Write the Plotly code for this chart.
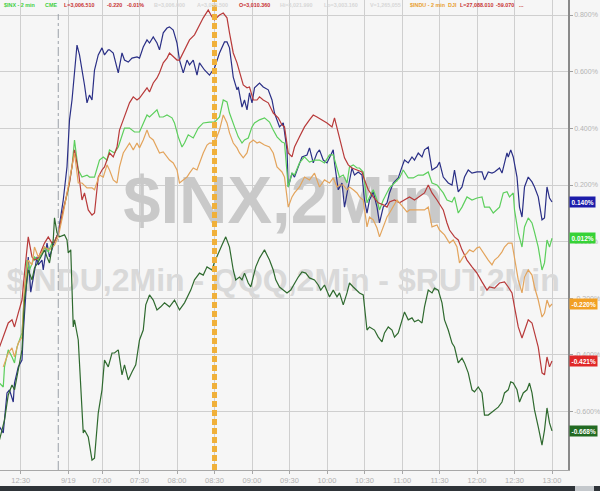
import plotly.graph_objects as go

# ---- data (time in minutes of the compressed session axis, value in %) ----
INX = [(338,-0.654),(341,-0.675),(344,-0.534),(346,-0.523),(349,-0.566),(350,-0.499),(353,-0.442),(356,-0.418),(357,-0.322),(360,-0.089),(361,-0.054),(363,-0.178),(365,-0.125),(368,-0.054),(369,-0.082),(372,-0.065),(373,-0.100),(376,-0.005),(378,-0.054),(382,0.000),(385,0.031),(389,0.147),(392,0.264),(394,0.430),(396,0.500),(398,0.606),(400,0.694),(402,0.659),(405,0.588),(406,0.553),(408,0.490),(410,0.518),(412,0.500),(414,0.606),(417,0.659),(420,0.684),(422,0.659),(425,0.677),(426,0.677),(429,0.666),(433,0.596),(436,0.666),(438,0.641),(441,0.634),(444,0.648),(448,0.652),(450,0.648),(453,0.687),(456,0.712),(458,0.701),(461,0.723),(464,0.701),(466,0.677),(469,0.737),(472,0.754),(474,0.758),(477,0.747),(480,0.701),(482,0.641),(485,0.596),(488,0.641),(490,0.624),(493,0.641),(496,0.588),(498,0.631),(502,0.606),(506,0.588),(510,0.613),(514,0.666),(518,0.705),(520,0.705),(522,0.684),(525,0.581),(528,0.536),(529,0.546),(532,0.475),(534,0.500),(536,0.465),(538,0.525),(540,0.490),(542,0.543),(546,0.560),(549,0.546),(553,0.536),(556,0.500),(558,0.454),(562,0.405),(565,0.419),(568,0.324),(569,0.193),(572,0.242),(574,0.228),(577,0.264),(580,0.299),(584,0.306),(586,0.331),(589,0.278),(592,0.313),(594,0.324),(597,0.288),(600,0.278),(602,0.299),(605,0.324),(606,0.278),(609,0.183),(612,0.207),(614,0.122),(617,0.193),(620,0.260),(622,0.235),(625,0.246),(628,0.235),(630,0.147),(632,0.101),(634,0.147),(637,0.176),(640,0.122),(642,0.066),(645,0.122),(648,0.137),(650,0.172),(653,0.207),(657,0.225),(660,0.264),(662,0.288),(665,0.278),(668,0.299),(670,0.288),(673,0.313),(676,0.299),(678,0.324),(681,0.334),(684,0.253),(688,0.264),(690,0.281),(693,0.228),(697,0.207),(700,0.200),(702,0.253),(705,0.176),(708,0.193),(710,0.228),(713,0.253),(716,0.242),(720,0.246),(724,0.246),(726,0.218),(729,0.246),(732,0.242),(734,0.246),(738,0.260),(740,0.242),(742,0.281),(744,0.313),(745,0.299),(747,0.324),(749,0.299),(752,0.228),(754,0.122),(756,0.087),(758,0.193),(761,0.228),(764,0.211),(766,0.193),(769,0.158),(772,0.077),(774,0.084),(776,0.193),(778,0.154),(780,0.140)]

QQQ = [(338,-0.499),(341,-0.513),(342,-0.442),(345,-0.382),(348,-0.407),(350,-0.428),(352,-0.372),(354,-0.347),(356,-0.322),(358,-0.181),(360,-0.065),(362,-0.100),(364,-0.075),(366,-0.054),(369,-0.065),(372,-0.036),(374,-0.019),(377,-0.036),(380,-0.005),(382,0.000),(385,0.031),(389,0.112),(393,0.183),(396,0.264),(398,0.359),(401,0.253),(404,0.228),(408,0.235),(410,0.228),(414,0.228),(418,0.288),(421,0.299),(424,0.288),(426,0.324),(430,0.313),(433,0.334),(436,0.370),(438,0.401),(442,0.401),(446,0.387),(450,0.387),(453,0.419),(456,0.447),(458,0.440),(461,0.454),(464,0.465),(466,0.440),(469,0.440),(472,0.447),(476,0.437),(478,0.419),(481,0.370),(484,0.334),(486,0.348),(489,0.377),(493,0.366),(497,0.401),(501,0.419),(506,0.422),(510,0.422),(514,0.440),(517,0.500),(520,0.493),(522,0.454),(526,0.405),(529,0.370),(532,0.348),(534,0.359),(537,0.366),(540,0.405),(542,0.419),(546,0.430),(550,0.437),(554,0.422),(557,0.394),(560,0.370),(564,0.352),(566,0.348),(569,0.193),(572,0.242),(574,0.235),(578,0.278),(582,0.299),(586,0.281),(590,0.288),(594,0.288),(598,0.278),(602,0.306),(605,0.306),(608,0.264),(610,0.228),(613,0.235),(616,0.207),(618,0.264),(621,0.271),(624,0.260),(626,0.260),(629,0.246),(632,0.137),(634,0.158),(637,0.183),(640,0.147),(642,0.112),(645,0.147),(648,0.172),(650,0.190),(654,0.207),(658,0.225),(661,0.253),(665,0.225),(669,0.225),(673,0.235),(677,0.235),(681,0.246),(684,0.207),(688,0.200),(693,0.172),(696,0.147),(700,0.140),(702,0.158),(705,0.101),(708,0.122),(712,0.158),(716,0.147),(720,0.154),(724,0.158),(726,0.122),(730,0.122),(733,0.101),(736,0.112),(738,0.122),(741,0.172),(744,0.176),(746,0.158),(749,0.172),(750,0.112),(753,0.031),(756,-0.019),(758,0.052),(761,0.084),(764,0.066),(766,0.034),(769,-0.019),(772,-0.100),(774,-0.075),(776,0.006),(778,-0.019),(780,0.012)]

NDX_RED = [(338,-0.372),(342,-0.322),(345,-0.287),(348,-0.276),(350,-0.301),(353,-0.252),(356,-0.206),(358,-0.111),(361,0.017),(364,-0.054),(366,-0.065),(369,-0.058),(372,-0.022),(374,-0.005),(377,0.017),(380,-0.005),(382,0.000),(385,0.031),(389,0.112),(394,0.207),(398,0.324),(401,0.253),(404,0.147),(406,0.172),(409,0.112),(412,0.094),(414,0.101),(417,0.228),(420,0.253),(422,0.264),(426,0.313),(429,0.299),(432,0.334),(434,0.394),(437,0.430),(440,0.465),(442,0.490),(445,0.511),(448,0.500),(450,0.507),(453,0.525),(456,0.543),(458,0.528),(461,0.560),(464,0.578),(466,0.596),(469,0.631),(472,0.648),(474,0.666),(477,0.652),(480,0.641),(482,0.641),(486,0.677),(490,0.712),(494,0.730),(497,0.758),(501,0.790),(505,0.818),(508,0.793),(510,0.783),(514,0.800),(517,0.807),(520,0.790),(522,0.737),(525,0.666),(528,0.631),(530,0.596),(533,0.553),(536,0.543),(538,0.546),(541,0.500),(544,0.500),(546,0.511),(549,0.500),(553,0.490),(557,0.454),(561,0.437),(564,0.412),(566,0.405),(569,0.313),(572,0.299),(574,0.334),(578,0.370),(582,0.405),(586,0.430),(589,0.447),(592,0.440),(596,0.430),(600,0.419),(604,0.405),(606,0.437),(609,0.384),(612,0.324),(614,0.296),(617,0.271),(620,0.260),(624,0.253),(628,0.246),(630,0.218),(633,0.183),(637,0.158),(641,0.137),(645,0.130),(648,0.122),(650,0.140),(654,0.147),(658,0.137),(662,0.147),(666,0.158),(670,0.147),(674,0.158),(678,0.172),(681,0.200),(684,0.172),(688,0.147),(693,0.112),(696,0.066),(698,0.041),(702,0.017),(705,0.006),(708,-0.029),(712,-0.065),(716,-0.089),(720,-0.111),(724,-0.142),(728,-0.171),(730,-0.160),(734,-0.164),(738,-0.146),(742,-0.142),(745,-0.160),(748,-0.181),(750,-0.230),(753,-0.301),(756,-0.340),(758,-0.312),(761,-0.276),(764,-0.287),(766,-0.322),(769,-0.372),(772,-0.463),(774,-0.470),(776,-0.407),(778,-0.442),(780,-0.421)]

INDU = [(341,-0.442),(345,-0.393),(348,-0.375),(350,-0.407),(353,-0.358),(356,-0.337),(358,-0.160),(361,-0.065),(364,-0.082),(366,-0.019),(369,-0.054),(372,-0.036),(374,-0.019),(378,-0.029),(382,-0.012),(385,0.017),(389,0.101),(393,0.193),(396,0.264),(398,0.313),(401,0.207),(404,0.207),(408,0.190),(412,0.190),(414,0.183),(418,0.235),(421,0.228),(424,0.271),(426,0.253),(429,0.218),(432,0.207),(434,0.264),(437,0.313),(440,0.334),(442,0.348),(445,0.324),(448,0.348),(450,0.331),(453,0.359),(456,0.394),(458,0.370),(461,0.359),(464,0.334),(466,0.313),(469,0.317),(472,0.299),(474,0.288),(477,0.278),(480,0.253),(482,0.207),(485,0.218),(488,0.228),(490,0.242),(493,0.260),(496,0.253),(498,0.278),(501,0.313),(504,0.341),(506,0.348),(510,0.348),(514,0.394),(517,0.447),(520,0.419),(522,0.384),(525,0.348),(528,0.331),(530,0.313),(533,0.296),(536,0.313),(538,0.348),(541,0.359),(544,0.348),(546,0.352),(550,0.341),(554,0.334),(557,0.313),(560,0.264),(564,0.246),(566,0.228),(569,0.122),(572,0.158),(574,0.172),(578,0.193),(582,0.228),(586,0.218),(590,0.242),(594,0.193),(598,0.218),(602,0.207),(605,0.225),(608,0.193),(610,0.200),(613,0.200),(616,0.183),(618,0.193),(621,0.183),(624,0.172),(626,0.158),(629,0.147),(632,0.052),(634,0.087),(637,0.077),(640,0.048),(642,0.017),(645,0.052),(648,0.087),(650,0.101),(653,0.122),(656,0.147),(658,0.137),(661,0.122),(664,0.105),(666,0.112),(670,0.112),(674,0.112),(678,0.112),(681,0.122),(684,0.052),(688,0.059),(690,0.041),(694,0.024),(698,-0.005),(701,0.006),(704,-0.019),(706,-0.075),(709,-0.054),(712,-0.040),(714,-0.029),(717,-0.036),(720,-0.022),(722,-0.019),(725,-0.040),(729,-0.065),(732,-0.082),(734,-0.065),(737,-0.054),(740,-0.036),(742,-0.019),(745,-0.005),(748,-0.005),(750,-0.054),(753,-0.135),(756,-0.181),(758,-0.125),(761,-0.100),(764,-0.118),(766,-0.160),(769,-0.206),(772,-0.266),(774,-0.252),(776,-0.206),(778,-0.230),(780,-0.220)]

RUT = [(338,-0.700),(342,-0.630),(345,-0.541),(348,-0.506),(350,-0.523),(353,-0.453),(356,-0.382),(358,-0.206),(361,-0.100),(364,-0.135),(366,-0.093),(369,-0.072),(372,-0.047),(374,-0.029),(376,-0.054),(378,-0.075),(381,0.006),(382,0.084),(384,0.031),(386,0.017),(390,0.024),(392,0.006),(393,-0.040),(395,-0.029),(397,-0.301),(398,-0.276),(401,-0.347),(402,-0.442),(405,-0.675),(406,-0.665),(409,-0.689),(412,-0.771),(414,-0.764),(417,-0.605),(420,-0.523),(422,-0.418),(425,-0.442),(428,-0.393),(430,-0.393),(433,-0.382),(436,-0.470),(438,-0.435),(441,-0.488),(444,-0.460),(447,-0.435),(450,-0.347),(453,-0.312),(455,-0.223),(458,-0.188),(461,-0.206),(464,-0.241),(467,-0.230),(470,-0.216),(474,-0.230),(478,-0.206),(482,-0.241),(486,-0.216),(491,-0.171),(494,-0.135),(498,-0.111),(501,-0.118),(504,-0.089),(508,-0.100),(510,-0.072),(513,-0.040),(516,-0.012),(519,0.017),(522,-0.019),(525,-0.100),(527,-0.135),(530,-0.125),(532,-0.135),(534,-0.111),(537,-0.146),(539,-0.160),(543,-0.089),(546,-0.058),(550,-0.029),(552,-0.047),(554,-0.065),(557,-0.100),(559,-0.135),(562,-0.160),(565,-0.171),(568,-0.181),(571,-0.171),(574,-0.146),(577,-0.125),(580,-0.107),(583,-0.111),(586,-0.128),(590,-0.135),(593,-0.153),(595,-0.171),(598,-0.153),(602,-0.195),(605,-0.171),(608,-0.195),(610,-0.181),(613,-0.223),(616,-0.181),(618,-0.146),(621,-0.160),(624,-0.171),(626,-0.181),(629,-0.188),(632,-0.312),(634,-0.301),(638,-0.312),(641,-0.337),(644,-0.354),(646,-0.322),(649,-0.301),(652,-0.312),(654,-0.337),(657,-0.322),(660,-0.276),(662,-0.248),(665,-0.276),(668,-0.269),(670,-0.283),(673,-0.276),(676,-0.287),(678,-0.230),(681,-0.171),(684,-0.181),(686,-0.164),(689,-0.171),(692,-0.216),(694,-0.276),(697,-0.312),(700,-0.358),(702,-0.372),(705,-0.428),(708,-0.411),(710,-0.428),(713,-0.463),(716,-0.523),(718,-0.530),(721,-0.513),(724,-0.534),(726,-0.612),(729,-0.612),(732,-0.601),(734,-0.594),(737,-0.584),(740,-0.566),(742,-0.534),(745,-0.523),(747,-0.495),(749,-0.499),(752,-0.523),(754,-0.566),(757,-0.534),(760,-0.523),(762,-0.499),(764,-0.534),(766,-0.594),(769,-0.654),(772,-0.718),(774,-0.665),(776,-0.587),(778,-0.640),(780,-0.668)]

SERIES_NAMES = ["$INX", "QQQ", "$NDX", "$INDU", "$RUT"]
LINE_COLORS = ["#2a2f86", "#5ccf5c", "#b83a3a", "#e3a45c", "#2f6a2f"]
# end labels, ordered top to bottom
END_LABELS = ["0.140%", "0.012%", "-0.220%", "-0.421%", "-0.668%"]
END_VALUES = [0.140, 0.012, -0.220, -0.421, -0.668]
LABEL_COLORS = ["#1c1caa", "#36d236", "#f2a024", "#e02828", "#226a22"]

X_TICK_VALS = [355, 393, 420, 450, 480, 510, 540, 570, 600, 630, 660, 690, 720, 750, 780]
X_TICK_TEXT = ["12:30", "9/19", "07:00", "07:30", "08:00", "08:30", "09:00", "09:30",
               "10:00", "10:30", "11:00", "11:30", "12:00", "12:30", "13:00"]
Y_TICK_VALS = [-0.6, -0.4, -0.2, 0.0, 0.2, 0.4, 0.6, 0.8]
Y_TICK_TEXT = ["-0.600%", "-0.400%", "-0.200%", "0.000%", "0.200%", "0.400%", "0.600%", "0.800%"]

SESSION_START = 385   # dashed session boundary
EVENT_TIME = 510      # 08:30 marker

HEADER = [(2, "$INX - 2 min", "#3ecf3e"), (43, "CME", "#3ecf3e"), (62, "L=3,006.510", "#c83232"),
          (105, "-0.220", "#c83232"), (125, "-0.01%", "#c83232"), (152, "B=3,006.000", "#d6d6d6"),
          (195, "A=3,006.500", "#d6d6d6"), (237, "O=3,010.360", "#c83232"), (278, "Hi=3,021.990", "#d6d6d6"),
          (322, "Lo=3,003.160", "#d6d6d6"), (368, "V=1,265,055", "#d6d6d6"), (408, "$INDU - 2 min", "#e8a030"),
          (446, "DJI", "#e8a030"), (458, "L=27,088.010", "#c83232"), (494, "-59.070", "#c83232"),
          (517, "...", "#c83232")]

FONT = "Liberation Sans, Arial, sans-serif"
W, H = 600, 491
ML, MR, MT, MB = 0, 32, 0, 21
PW, PH = W - ML - MR, H - MT - MB

fig = go.Figure()

# watermarks (drawn first so lines sit on top)
fig.add_trace(go.Scatter(x=[565], y=[0.126], mode="text", text=["<b>$INX,2Min</b>"],
                         textfont=dict(family=FONT, size=67, color="#c9c9c9"),
                         hoverinfo="skip", showlegend=False, cliponaxis=False))
fig.add_trace(go.Scatter(x=[565], y=[-0.146], mode="text",
                         text=["<b>$INDU,2Min - QQQ,2Min - $RUT,2Min</b>"],
                         textfont=dict(family=FONT, size=32, color="#d9d9d9"),
                         hoverinfo="skip", showlegend=False, cliponaxis=False))

for name, data, col in zip(SERIES_NAMES, [INX, QQQ, NDX_RED, INDU, RUT], LINE_COLORS):
    t, v = zip(*data)
    fig.add_trace(go.Scatter(x=list(t), y=list(v), mode="lines", name=name,
                             line=dict(color=col, width=1.2), showlegend=False))

# vertical markers
fig.add_shape(type="line", x0=SESSION_START, x1=SESSION_START, y0=0, y1=0.97,
              xref="x", yref="paper", line=dict(color="#9aa0a8", width=1, dash="dashdot"))
fig.add_shape(type="line", x0=EVENT_TIME, x1=EVENT_TIME, y0=0, y1=1,
              xref="x", yref="paper", line=dict(color="#f0b03a", width=5, dash="6px,3px"))

# header line
for px, txt, col in HEADER:
    fig.add_annotation(x=px / PW, y=(PH - 5) / PH, xref="paper", yref="paper",
                       xanchor="left", yanchor="middle", showarrow=False,
                       text="<b>" + txt + "</b>", font=dict(family=FONT, size=5.4, color=col))

# end-value labels
for val, txt, col in zip(END_VALUES, END_LABELS, LABEL_COLORS):
    fig.add_annotation(x=1, y=val, xref="paper", yref="y", xanchor="left", yanchor="middle",
                       xshift=1, showarrow=False, text="<b>" + txt + "</b>",
                       font=dict(family=FONT, size=6.5, color="white"),
                       bgcolor=col, borderpad=1.5)

# bottom dark strip
fig.add_shape(type="rect", xref="paper", yref="paper", x0=-0.01, x1=W / PW + 0.01,
              y0=-(486 - PH) / PH, y1=-(H + 2 - PH) / PH, fillcolor="#2e3338", line=dict(width=0))
fig.add_shape(type="rect", xref="paper", yref="paper", x0=575 / PW, x1=594 / PW,
              y0=-(486 - PH) / PH, y1=-(H + 2 - PH) / PH, fillcolor="#c4c8cc", line=dict(width=0))

fig.update_layout(
    width=W, height=H, margin=dict(l=ML, r=MR, t=MT, b=MB, autoexpand=False),
    paper_bgcolor="#f6f6f6", plot_bgcolor="#f6f6f6", showlegend=False,
    font=dict(family=FONT),
    xaxis=dict(range=[338.4, 792.8], tickvals=X_TICK_VALS, ticktext=X_TICK_TEXT,
               showgrid=True, gridcolor="#cfcfcf", gridwidth=1, zeroline=False,
               showline=True, linecolor="#a8a8a8", linewidth=1,
               ticks="outside", ticklen=3, tickcolor="#a8a8a8",
               tickfont=dict(size=7.5, color="#b0b0b0")),
    yaxis=dict(range=[-0.806, 0.853], side="right", tickvals=Y_TICK_VALS, ticktext=Y_TICK_TEXT,
               showgrid=True, gridcolor="#cfcfcf", gridwidth=1, zeroline=False,
               showline=True, linecolor="#8a8a8a", linewidth=1.5,
               ticks="outside", ticklen=3, tickcolor="#a0a0a0",
               tickfont=dict(size=7, color="#b4b4b4")),
)

fig.write_html("out.html", config={"displayModeBar": False},
               post_script="document.body.style.margin='0';document.body.style.padding='0';")
